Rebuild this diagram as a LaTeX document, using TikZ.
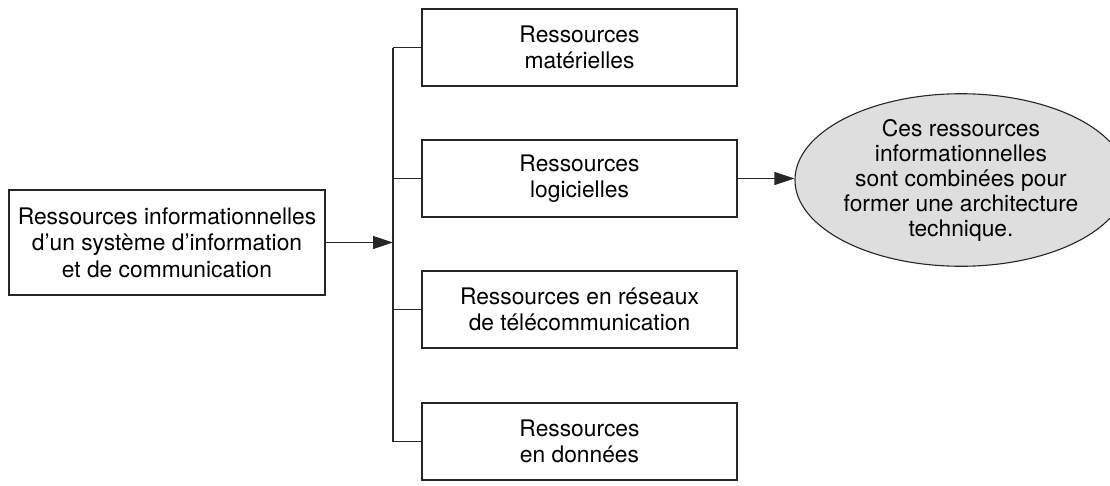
\documentclass[tikz,border=0pt]{standalone}
\usepackage{fontspec}
\setmainfont{TeX Gyre Heros}
\usetikzlibrary{arrows.meta,shapes.geometric}
\tikzset{
  resbox/.style={draw=black!85, line width=1.1pt, fill=white, align=center, inner sep=0pt,
    minimum width=315pt, minimum height=77pt, font=\fontsize{22.8}{26.5}\selectfont},
  resarrow/.style={draw=black!85, line width=1.1pt, -{Triangle[length=20pt,width=13pt]}}
}

\begin{document}
\begin{tikzpicture}[x=1pt,y=-1pt]
		\useasboundingbox (0,0) rectangle (1110,485);

		\node[resbox, minimum width=316pt, minimum height=105pt] (src) at (167,242.5)
			{Ressources informationnelles\\d'un système d'information\\et de communication};

		\node[resbox] (mat) at (579.5,47.5) {Ressources\\matérielles};
		\node[resbox] (log) at (579.5,178.5) {Ressources\\logicielles};
		\node[resbox] (res) at (579.5,309.5) {Ressources en réseaux\\de télécommunication};
		\node[resbox] (don) at (579.5,441.5) {Ressources\\en données};

		\node[ellipse, draw=black!85, line width=1.1pt, fill=black!13, inner sep=0pt,
			minimum width=295pt, minimum height=166pt, align=center,
			font=\fontsize{22.8}{25}\selectfont] (arch) at (961,180)
			{Ces ressources\\informationnelles\\sont combinées pour\\former une architecture\\technique.};

		% bus
		\coordinate (bus) at (393,48);
		\draw[draw=black!85, line width=1.1pt] (bus |- mat.west) -- (bus |- don.west);
		\foreach \b in {mat,log,res,don}
			\draw[draw=black!85, line width=1.1pt] (bus |- \b.west) -- (\b.west);

		\draw[resarrow] (src.east) -- (bus |- src.east);
		\draw[resarrow] (log.east) -- (log.east -| arch.west);
	\end{tikzpicture}
\end{document}
